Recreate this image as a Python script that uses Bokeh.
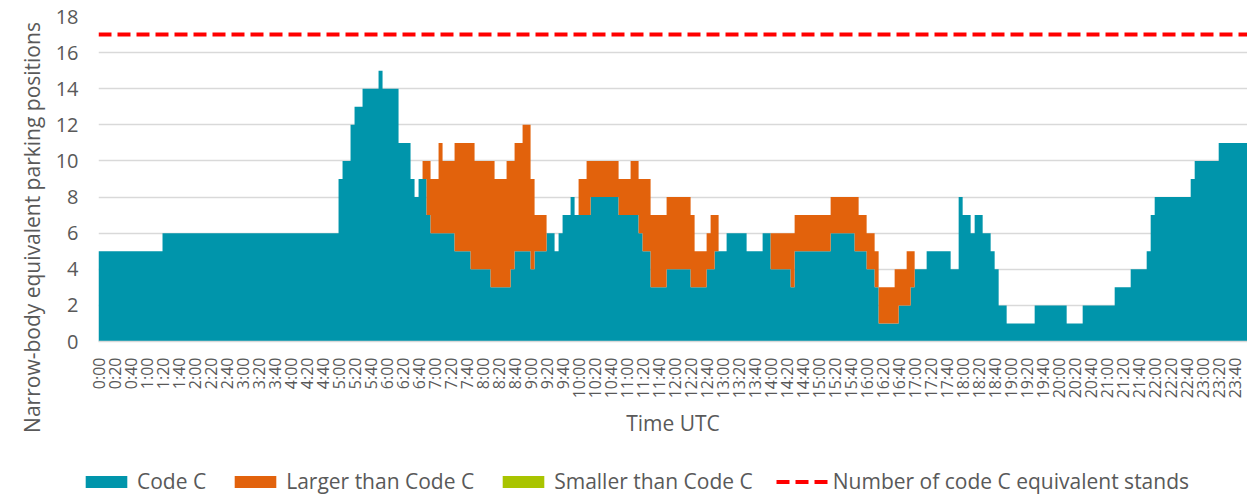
import math
from bokeh.plotting import figure
from bokeh.layouts import column, row
from bokeh.models import Range1d, FixedTicker, Legend, LegendItem, Label
from bokeh.embed import file_html
from bokeh.resources import INLINE

# ---------------- data (5-minute slots, one row per hour) ----------------
SLOT_MINUTES = 5

CODE_C = [
    5, 5, 5, 5, 5, 5, 5, 5, 5, 5, 5, 5,          # 0h
    5, 5, 5, 5, 6, 6, 6, 6, 6, 6, 6, 6,          # 1h
    6, 6, 6, 6, 6, 6, 6, 6, 6, 6, 6, 6,          # 2h
    6, 6, 6, 6, 6, 6, 6, 6, 6, 6, 6, 6,          # 3h
    6, 6, 6, 6, 6, 6, 6, 6, 6, 6, 6, 6,          # 4h
    9, 10, 10, 12, 13, 13, 14, 14, 14, 14, 15, 14,  # 5h
    14, 14, 14, 11, 11, 11, 9, 8, 9, 9, 7, 6,    # 6h
    6, 6, 6, 6, 6, 5, 5, 5, 5, 4, 4, 4,          # 7h
    4, 4, 3, 3, 3, 3, 3, 4, 5, 5, 5, 5,          # 8h
    4, 5, 5, 5, 6, 6, 5, 6, 7, 7, 8, 7,          # 9h
    7, 7, 7, 8, 8, 8, 8, 8, 8, 8, 7, 7,          # 10h
    7, 7, 7, 6, 5, 5, 3, 3, 3, 3, 4, 4,          # 11h
    4, 4, 4, 4, 3, 3, 3, 3, 4, 4, 5, 5,          # 12h
    5, 6, 6, 6, 6, 6, 5, 5, 5, 5, 6, 6,          # 13h
    4, 4, 4, 4, 4, 3, 5, 5, 5, 5, 5, 5,          # 14h
    5, 5, 5, 6, 6, 6, 6, 6, 6, 5, 5, 5,          # 15h
    4, 4, 3, 1, 1, 1, 1, 1, 2, 2, 2, 3,          # 16h
    4, 4, 4, 5, 5, 5, 5, 5, 5, 4, 4, 8,          # 17h
    7, 7, 6, 7, 7, 6, 6, 5, 4, 2, 2, 1,          # 18h
    1, 1, 1, 1, 1, 1, 2, 2, 2, 2, 2, 2,          # 19h
    2, 2, 1, 1, 1, 1, 2, 2, 2, 2, 2, 2,          # 20h
    2, 2, 3, 3, 3, 3, 4, 4, 4, 4, 5, 7,          # 21h
    8, 8, 8, 8, 8, 8, 8, 8, 8, 9, 10, 10,        # 22h
    10, 10, 10, 10, 11, 11, 11, 11, 11, 11, 11, 11,  # 23h
]

LARGER_THAN_C = [
    0, 0, 0, 0, 0, 0, 0, 0, 0, 0, 0, 0,          # 0h
    0, 0, 0, 0, 0, 0, 0, 0, 0, 0, 0, 0,          # 1h
    0, 0, 0, 0, 0, 0, 0, 0, 0, 0, 0, 0,          # 2h
    0, 0, 0, 0, 0, 0, 0, 0, 0, 0, 0, 0,          # 3h
    0, 0, 0, 0, 0, 0, 0, 0, 0, 0, 0, 0,          # 4h
    0, 0, 0, 0, 0, 0, 0, 0, 0, 0, 0, 0,          # 5h
    0, 0, 0, 0, 0, 0, 0, 0, 0, 1, 3, 3,          # 6h
    3, 5, 4, 4, 4, 6, 6, 6, 6, 7, 6, 6,          # 7h
    6, 6, 7, 6, 6, 6, 7, 6, 6, 6, 7, 7,          # 8h
    5, 2, 2, 2, 0, 0, 0, 0, 0, 0, 0, 0,          # 9h
    2, 2, 3, 2, 2, 2, 2, 2, 2, 2, 2, 2,          # 10h
    2, 3, 3, 3, 4, 4, 4, 4, 4, 4, 4, 4,          # 11h
    4, 4, 4, 4, 4, 2, 2, 2, 2, 3, 2, 0,          # 12h
    0, 0, 0, 0, 0, 0, 0, 0, 0, 0, 0, 0,          # 13h
    2, 2, 2, 2, 2, 3, 2, 2, 2, 2, 2, 2,          # 14h
    2, 2, 2, 2, 2, 2, 2, 2, 2, 3, 2, 2,          # 15h
    2, 2, 2, 2, 2, 2, 2, 3, 2, 2, 3, 2,          # 16h
    0, 0, 0, 0, 0, 0, 0, 0, 0, 0, 0, 0,          # 17h
    0, 0, 0, 0, 0, 0, 0, 0, 0, 0, 0, 0,          # 18h
    0, 0, 0, 0, 0, 0, 0, 0, 0, 0, 0, 0,          # 19h
    0, 0, 0, 0, 0, 0, 0, 0, 0, 0, 0, 0,          # 20h
    0, 0, 0, 0, 0, 0, 0, 0, 0, 0, 0, 0,          # 21h
    0, 0, 0, 0, 0, 0, 0, 0, 0, 0, 0, 0,          # 22h
    0, 0, 0, 0, 0, 0, 0, 0, 0, 0, 0, 0,          # 23h
]

CODE_C_STANDS = 17

TICK_STEP_MINUTES = 20
TICK_LABELS = [
    "0:00", "0:20", "0:40", "1:00", "1:20", "1:40", "2:00", "2:20", "2:40",
    "3:00", "3:20", "3:40", "4:00", "4:20", "4:40", "5:00", "5:20", "5:40",
    "6:00", "6:20", "6:40", "7:00", "7:20", "7:40", "8:00", "8:20", "8:40",
    "9:00", "9:20", "9:40", "10:00", "10:20", "10:40", "11:00", "11:20", "11:40",
    "12:00", "12:20", "12:40", "13:00", "13:20", "13:40", "14:00", "14:20", "14:40",
    "15:00", "15:20", "15:40", "16:00", "16:20", "16:40", "17:00", "17:20", "17:40",
    "18:00", "18:20", "18:40", "19:00", "19:20", "19:40", "20:00", "20:20", "20:40",
    "21:00", "21:20", "21:40", "22:00", "22:20", "22:40", "23:00", "23:20", "23:40",
]
Y_TICKS = [0, 2, 4, 6, 8, 10, 12, 14, 16, 18]

SERIES_NAMES = ["Code C", "Larger than Code C", "Smaller than Code C",
                "Number of code C equivalent stands"]
Y_TITLE = "Narrow-body equivalent parking positions"
X_TITLE = "Time UTC"

# ---------------- styling ----------------
TEAL = "#0095AB"
ORANGE = "#E2620C"
GREEN = "#A9C400"
RED = "#FF0000"
GRID = "#D9D9D9"
TEXT = "#595959"
FONT = "Open Sans"

TITLE_W = 50
TOTAL_W, TOTAL_H = 1247, 496
LEGEND_H = 50


def no_align(fig):
    try:
        fig.frame_align = False
    except Exception:
        pass


n = len(CODE_C)
xs = [i * SLOT_MINUTES for i in range(n + 1)]
code_c = CODE_C + [CODE_C[-1]]
total = [a + b for a, b in zip(CODE_C, LARGER_THAN_C)]
total = total + [total[-1]]
base = [0] * (n + 1)

# ---------------- main chart ----------------
p = figure(width=TOTAL_W - TITLE_W, height=TOTAL_H - LEGEND_H,
           output_backend="svg", toolbar_location=None,
           x_range=Range1d(0, 1436), y_range=Range1d(0, 18),
           min_border_left=98 - TITLE_W, min_border_right=0, min_border_top=16,
           min_border_bottom=105)
no_align(p)
p.outline_line_color = None
p.background_fill_color = "white"
p.border_fill_color = "white"

p.varea_step(x=xs, y1=base, y2=code_c, step_mode="after", fill_color=TEAL)
p.varea_step(x=xs, y1=code_c, y2=total, step_mode="after", fill_color=ORANGE)
p.line(x=[0, n * SLOT_MINUTES], y=[CODE_C_STANDS, CODE_C_STANDS],
       line_color=RED, line_width=4, line_dash="13 6")

p.xgrid.grid_line_color = None
p.ygrid.grid_line_color = GRID
p.ygrid.grid_line_width = 1.3
p.ygrid.ticker = FixedTicker(ticks=Y_TICKS)

xa = p.xaxis[0]
xa.ticker = FixedTicker(ticks=[i * TICK_STEP_MINUTES for i in range(len(TICK_LABELS))])
xa.major_label_overrides = {i * TICK_STEP_MINUTES: lab for i, lab in enumerate(TICK_LABELS)}
xa.major_label_orientation = math.pi / 2
xa.major_tick_line_color = None
xa.minor_tick_line_color = None
xa.axis_line_color = GRID
xa.axis_line_width = 1.5
xa.major_label_standoff = 10
xa.major_label_text_font = FONT
xa.major_label_text_font_size = "16px"
xa.major_label_text_color = TEXT
xa.axis_label = X_TITLE
xa.axis_label_standoff = 8
xa.axis_label_text_font = FONT
xa.axis_label_text_font_size = "21px"
xa.axis_label_text_font_style = "normal"
xa.axis_label_text_color = TEXT

ya = p.yaxis[0]
ya.ticker = FixedTicker(ticks=Y_TICKS)
ya.axis_line_color = None
ya.major_tick_line_color = None
ya.minor_tick_line_color = None
ya.major_label_standoff = 14
ya.major_label_text_font = FONT
ya.major_label_text_font_size = "20px"
ya.major_label_text_color = TEXT

# ---------------- y-axis title strip ----------------
t = figure(width=TITLE_W, height=TOTAL_H, output_backend="svg",
           toolbar_location=None, x_range=Range1d(0, TITLE_W),
           y_range=Range1d(0, TOTAL_H), min_border=0,
           x_axis_type=None, y_axis_type=None)
no_align(t)
t.outline_line_color = None
t.grid.grid_line_color = None
t.background_fill_color = "white"
t.border_fill_color = "white"
t.add_layout(Label(x=31, y=TOTAL_H - 227, text=Y_TITLE, angle=math.pi / 2,
                   text_align="center", text_baseline="middle",
                   text_font=FONT, text_font_size="21px", text_color=TEXT))

# ---------------- legend strip ----------------
q = figure(width=TOTAL_W - TITLE_W, height=LEGEND_H, output_backend="svg",
           toolbar_location=None, x_range=Range1d(0, 1), y_range=Range1d(0, 1),
           min_border=0, x_axis_type=None, y_axis_type=None)
no_align(q)
q.outline_line_color = None
q.grid.grid_line_color = None
q.background_fill_color = "white"
q.border_fill_color = "white"

# legend swatches (placed outside the visible range, only their legend glyphs show)
l_c = q.quad(left=[2], right=[3], top=[3], bottom=[2], fill_color=TEAL, line_color=None)
l_l = q.quad(left=[2], right=[3], top=[3], bottom=[2], fill_color=ORANGE, line_color=None)
l_s = q.quad(left=[2], right=[3], top=[3], bottom=[2], fill_color=GREEN, line_color=None)
l_d = q.line(x=[2, 3], y=[2, 2], line_color=RED, line_width=4, line_dash="13 6")

legend = Legend(items=[
    LegendItem(label=SERIES_NAMES[0], renderers=[l_c]),
    LegendItem(label=SERIES_NAMES[1], renderers=[l_l]),
    LegendItem(label=SERIES_NAMES[2], renderers=[l_s]),
    LegendItem(label=SERIES_NAMES[3], renderers=[l_d]),
], orientation="horizontal", location=(80 - TITLE_W, 1), glyph_width=52,
    glyph_height=15, label_standoff=5, spacing=23, padding=0, margin=0,
    border_line_color=None, background_fill_alpha=0,
    label_text_font=FONT, label_text_font_size="21px",
    label_text_color=TEXT)
q.add_layout(legend)

layout = row(t, column(p, q, spacing=0), spacing=0)
open("out.html", "w").write(file_html(layout, INLINE))
